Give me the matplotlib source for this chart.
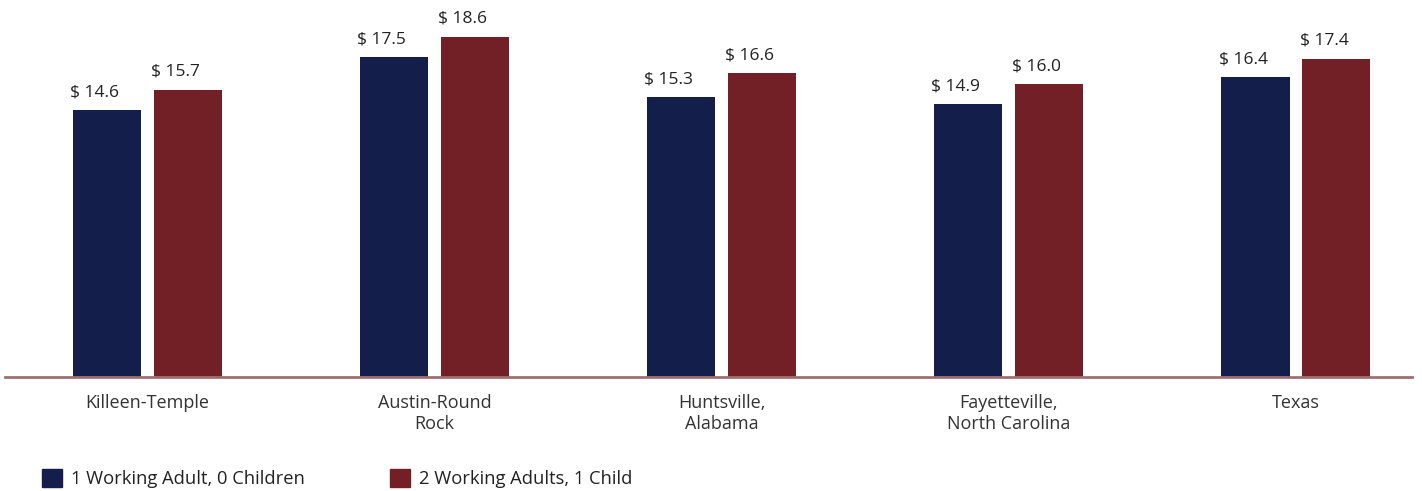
import numpy as np
from matplotlib import pyplot as plt
from matplotlib.patches import Patch

# Data
regions = ['Killeen-Temple', 'Austin-Round\nRock', 'Huntsville,\nAlabama',
           'Fayetteville,\nNorth Carolina', 'Texas']
one_adult = [14.6, 17.5, 15.3, 14.9, 16.4]
two_adults = [15.7, 18.6, 16.6, 16.0, 17.4]
series_names = ['1 Working Adult, 0 Children', '2 Working Adults, 1 Child']
colors = ['#141e4a', '#731f26']

plt.rcParams['font.family'] = ['Open Sans', 'DejaVu Sans']

fig = plt.figure(figsize=(14.22, 4.91), dpi=100)
ax = fig.add_axes([5 / 1422, 114 / 491, 1407 / 1422, 377 / 491])

x = np.arange(len(regions))
width = 0.237
offset = 0.141

b1 = ax.bar(x - offset, one_adult, width, color=colors[0])
b2 = ax.bar(x + offset, two_adults, width, color=colors[1])

for bars, vals in [(b1, one_adult), (b2, two_adults)]:
    for rect, v in zip(bars, vals):
        ax.annotate(f'$ {v:.1f}', (rect.get_x(), v), xytext=(-2, 7),
                    textcoords='offset points', ha='left', va='bottom',
                    fontsize=12.5, color='#222222')

ax.set_xlim(-0.495, 4.404)
ax.set_ylim(0, 20.6)
ax.set_xticks(x)
ax.set_xticklabels(regions, fontsize=13, color='#333333', linespacing=1.25,
                   va='top')
ax.tick_params(axis='x', length=0, pad=12)
ax.set_yticks([])
for side in ['top', 'right', 'left']:
    ax.spines[side].set_visible(False)
ax.spines['bottom'].set_color('#a07070')
ax.spines['bottom'].set_linewidth(2)

handles = [Patch(color=c) for c in colors]
fig.legend(handles, series_names, loc='lower left',
           bbox_to_anchor=(42 / 1422, 3 / 491), borderaxespad=0, borderpad=0,
           ncol=2, frameon=False, fontsize=13.2, handlelength=1.1,
           handleheight=1.1, handletextpad=0.5, columnspacing=4.6,
           labelcolor='#222222')

fig.savefig('out.png', dpi=100)
